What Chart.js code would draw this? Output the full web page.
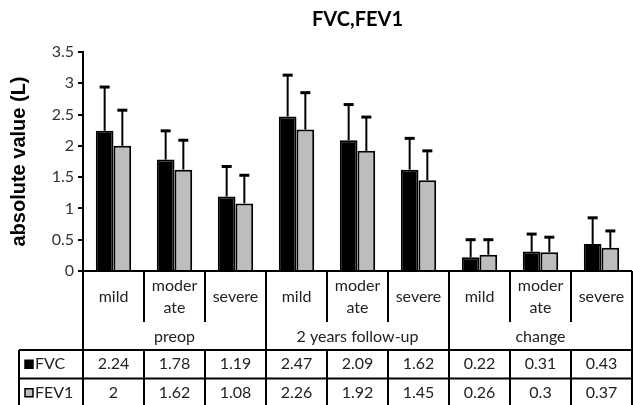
<!DOCTYPE html>
<html>
<head>
<meta charset="utf-8">
<script src="https://cdn.jsdelivr.net/npm/chart.js@4.4.1/dist/chart.umd.min.js"></script>
<style>
  html, body { margin: 0; padding: 0; background: #fff; }
  #wrap { width: 633px; height: 405px; }
</style>
</head>
<body>
<div id="wrap"><canvas id="myChart" width="633" height="405"></canvas></div>
<script>
const categories = [['mild'], ['moder', 'ate'], ['severe'], ['mild'], ['moder', 'ate'], ['severe'], ['mild'], ['moder', 'ate'], ['severe']];
const groups = ['preop', '2 years follow-up', 'change'];
const fvc = [2.24, 1.78, 1.19, 2.47, 2.09, 1.62, 0.22, 0.31, 0.43];
const fev1 = [2, 1.62, 1.08, 2.26, 1.92, 1.45, 0.26, 0.3, 0.37];
// upper error bar lengths (SD)
const fvcSd = [0.70, 0.46, 0.48, 0.66, 0.57, 0.50, 0.28, 0.28, 0.42];
const fev1Sd = [0.57, 0.47, 0.45, 0.59, 0.54, 0.47, 0.24, 0.24, 0.27];
const yTicks = [0, 0.5, 1, 1.5, 2, 2.5, 3, 3.5];

const tableFont = '16px Lato';

const errorBars = {
    id: 'errorBars',
    afterDatasetsDraw(chart) {
        const ctx = chart.ctx;
        const y = chart.scales.y;
        chart.data.datasets.forEach((ds, di) => {
            const meta = chart.getDatasetMeta(di);
            meta.data.forEach((bar, i) => {
                const top = y.getPixelForValue(ds.data[i] + ds.sd[i]);
                ctx.save();
                ctx.strokeStyle = '#000';
                ctx.lineWidth = 2;
                ctx.beginPath();
                ctx.moveTo(bar.x, bar.y);
                ctx.lineTo(bar.x, top);
                ctx.stroke();
                ctx.lineWidth = 3;
                ctx.beginPath();
                ctx.moveTo(bar.x - 5, top);
                ctx.lineTo(bar.x + 5, top);
                ctx.stroke();
                ctx.restore();
            });
        });
    }
};

const dataTable = {
    id: 'dataTable',
    afterDraw(chart) {
        const ctx = chart.ctx;
        const x = chart.scales.x;
        const top = chart.chartArea.bottom;
        const n = categories.length;
        const w = (x.right - x.left) / n;
        const catBottom = top + 51;
        const groupBottom = top + 79;
        const rowH = 28.5;
        const leftEdge = 19;
        const bottom = 420;

        ctx.save();
        ctx.strokeStyle = '#000';
        ctx.lineWidth = 2;

        // axis / table top line
        ctx.beginPath();
        ctx.moveTo(x.left - 4, top);
        ctx.lineTo(x.right, top);
        ctx.stroke();

        // vertical lines
        for (let i = 0; i <= n; i++) {
            const px = x.left + i * w;
            ctx.beginPath();
            ctx.moveTo(px, top);
            ctx.lineTo(px, i % 3 === 0 ? bottom : catBottom);
            ctx.stroke();
            ctx.beginPath();
            ctx.moveTo(px, groupBottom);
            ctx.lineTo(px, bottom);
            ctx.stroke();
        }
        ctx.beginPath();
        ctx.moveTo(leftEdge, groupBottom);
        ctx.lineTo(leftEdge, bottom);
        ctx.stroke();

        // horizontal lines of the value rows
        [groupBottom, groupBottom + rowH].forEach(py => {
            ctx.beginPath();
            ctx.moveTo(leftEdge, py);
            ctx.lineTo(x.right, py);
            ctx.stroke();
        });

        ctx.fillStyle = '#222';
        ctx.font = tableFont;
        ctx.textAlign = 'center';
        ctx.textBaseline = 'middle';

        categories.forEach((lines, i) => {
            const cx = x.getPixelForValue(i);
            if (lines.length === 1) {
                ctx.fillText(lines[0], cx, top + 26);
            } else {
                ctx.fillText(lines[0], cx, top + 15);
                ctx.fillText(lines[1], cx, top + 37);
            }
        });

        groups.forEach((g, gi) => {
            const cx = x.left + (gi * 3 + 1.5) * w;
            ctx.fillText(g, cx, top + 66);
        });

        const rows = [
            { label: 'FVC', data: fvc, color: '#000' },
            { label: 'FEV1', data: fev1, color: '#bdbdbd' }
        ];
        rows.forEach((r, ri) => {
            const cy = groupBottom + rowH * ri + rowH / 2;
            ctx.fillStyle = r.color;
            ctx.fillRect(25, cy - 4, 8, 8);
            ctx.lineWidth = 1.5;
            ctx.strokeRect(25, cy - 4, 8, 8);
            ctx.fillStyle = '#222';
            ctx.textAlign = 'left';
            ctx.fillText(r.label, 35, cy);
            ctx.textAlign = 'center';
            r.data.forEach((v, i) => {
                ctx.fillText(String(v), x.getPixelForValue(i), cy);
            });
        });
        ctx.restore();
    }
};

const ctx = document.getElementById('myChart').getContext('2d');
const myChart = new Chart(ctx, {
    type: 'bar',
    data: {
        labels: categories,
        datasets: [{
            label: 'FVC',
            data: fvc,
            sd: fvcSd,
            backgroundColor: '#000',
            borderColor: '#000',
            borderWidth: 2
        }, {
            label: 'FEV1',
            data: fev1,
            sd: fev1Sd,
            backgroundColor: '#bdbdbd',
            borderColor: '#000',
            borderWidth: 2
        }]
    },
    options: {
        responsive: false,
        animation: false,
        devicePixelRatio: 1,
        layout: {
            padding: { left: 0, right: 1, top: 0, bottom: 134 }
        },
        datasets: {
            bar: { barPercentage: 1, categoryPercentage: 0.58 }
        },
        scales: {
            x: {
                display: false
            },
            y: {
                min: 0,
                max: 3.5,
                afterBuildTicks: (scale) => {
                    scale.ticks = yTicks.map(v => ({ value: v }));
                },
                afterFit: (scale) => { scale.width = 83; },
                grid: {
                    drawOnChartArea: false,
                    drawTicks: true,
                    tickLength: 5,
                    color: '#000',
                    lineWidth: 2
                },
                border: { color: '#000', width: 2 },
                ticks: {
                    color: '#333',
                    font: { family: 'Lato', size: 16 },
                    padding: 4,
                    callback: function(value) {
                        return String(value);
                    }
                },
                title: {
                    display: true,
                    text: 'absolute value (L)',
                    color: '#000',
                    font: { family: 'Liberation Sans', size: 20, weight: 'bold' },
                    padding: { top: 7, bottom: 0 }
                }
            }
        },
        plugins: {
            legend: { display: false },
            tooltip: { enabled: false },
            title: {
                display: true,
                text: 'FVC,FEV1',
                fullSize: false,
                color: '#000',
                font: { family: 'Lato', size: 20, weight: 'bold' },
                padding: { top: 8, bottom: 20 }
            }
        }
    },
    plugins: [errorBars, dataTable]
});
</script>
</body>
</html>
